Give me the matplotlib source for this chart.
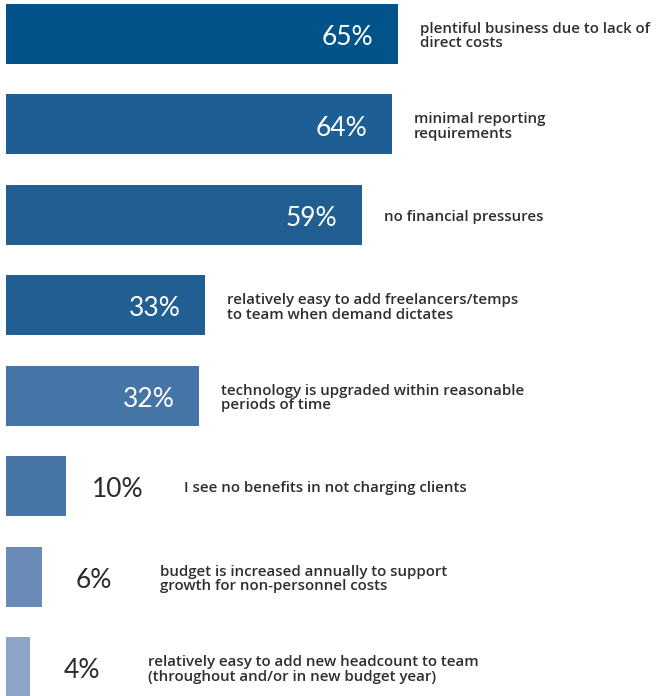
import matplotlib.pyplot as plt

# survey results, top to bottom
labels = [
    'plentiful business due to lack of\ndirect costs',
    'minimal reporting\nrequirements',
    'no financial pressures',
    'relatively easy to add freelancers/temps\nto team when demand dictates',
    'technology is upgraded within reasonable\nperiods of time',
    'I see no benefits in not charging clients',
    'budget is increased annually to support\ngrowth for non-personnel costs',
    'relatively easy to add new headcount to team\n(throughout and/or in new budget year)',
]
values = [65, 64, 59, 33, 32, 10, 6, 4]
colors = ['#02538a', '#1d5e94', '#215f93', '#215f93',
          '#4574a7', '#4775a6', '#6a8bb8', '#8ca4c8']

fig = plt.figure(figsize=(6.64, 6.96), dpi=100)
ax = fig.add_axes([0.009, 0, 0.991, 1])

ypos = list(range(len(values)))
ax.barh(ypos, values, height=0.663, color=colors)

txt = dict(ha='left', va='center', color='#2e2e2e', fontsize=10.8,
           family='Open Sans', weight=600, linespacing=1.04)
pct = dict(va='center', fontsize=19, family='Lato')
for y, v, lab in zip(ypos, values, labels):
    if v >= 30:
        ax.text(v - 4, y + 0.04, f'{v}%', ha='right', color='white', **pct)
        ax.text(v + 3.7, y + 0.025, lab, **txt)
    else:
        ax.text(v + 8.6, y + 0.04, f'{v}%', ha='center', color='#2b2b2b', **pct)
        ax.text(v + 19.5, y + 0.025, lab, **txt)

ax.set_xlim(0, 109.2)
ax.set_ylim(7.32, -0.376)
ax.axis('off')

fig.savefig('out.png', dpi=100)
